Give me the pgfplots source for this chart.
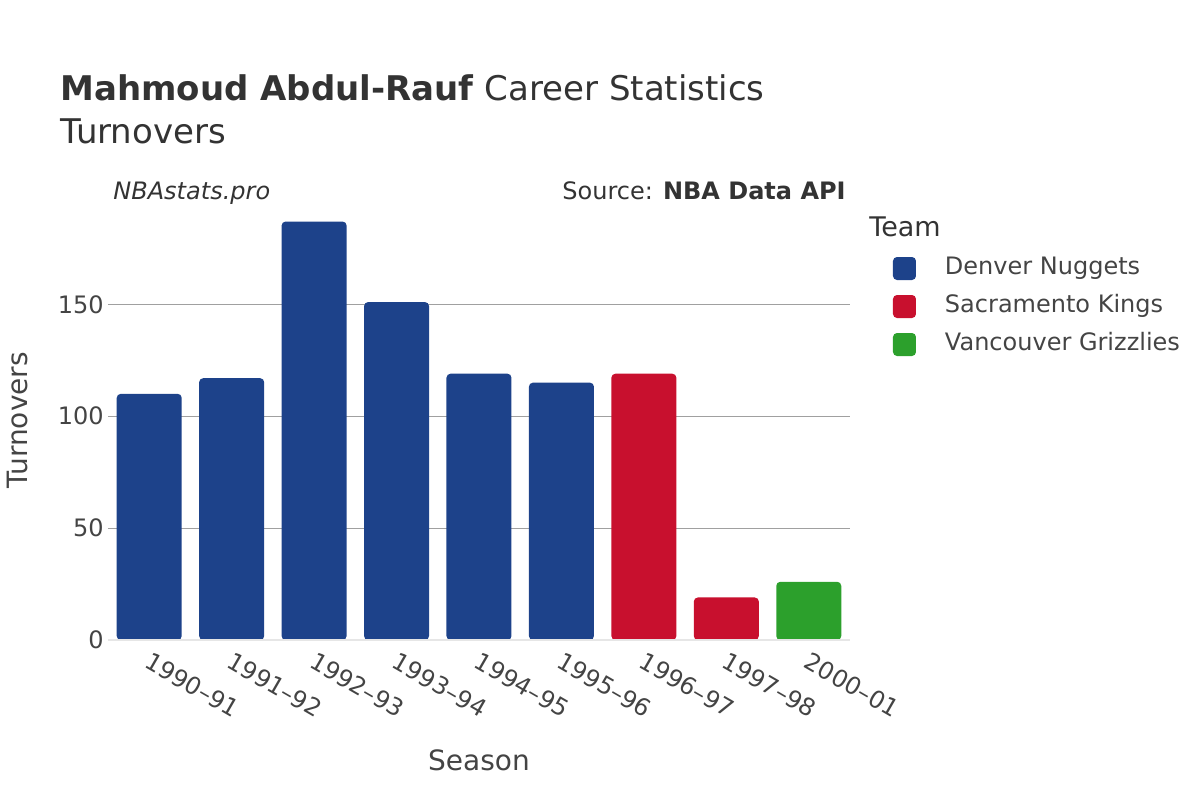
\documentclass[border=0pt]{standalone}
\usepackage{pgfplots}
\pgfplotsset{compat=1.18}
\usepackage{fontspec}
\setmainfont{DejaVu Sans}
\definecolor{txt}{HTML}{444444}
\definecolor{ttl}{HTML}{333333}
\definecolor{gridc}{HTML}{A0A0A0}
\definecolor{zeroc}{HTML}{E6E6E6}
\definecolor{den}{HTML}{1D428A}
\definecolor{sac}{HTML}{C8102E}
\definecolor{van}{HTML}{2CA02C}
\begin{document}
\begin{tikzpicture}
\path[use as bounding box] (0,0) rectangle (600pt,400pt);
\begin{axis}[
  at={(54pt,80pt)}, anchor=south west,
  scale only axis, width=371pt, height=219.75pt,
  xmin=-0.5, xmax=8.5, ymin=0, ymax=196.4,
  ybar, bar width=32.5pt, bar shift=0pt,
  clip=false,
  axis line style={draw=none}, major tick length=0pt,
  xtick={0,1,2,3,4,5,6,7,8},
  xticklabels={1990--91,1991--92,1992--93,1993--94,1994--95,1995--96,1996--97,1997--98,2000--01},
  ytick={50,100,150},
  extra y ticks={0}, extra y tick style={grid=none},
  ymajorgrids, grid style={color=gridc, line width=0.5pt},
  /pgf/number format/assume math mode=true,
  tick label style={font=\fontsize{12}{14}\selectfont, color=txt},
  yticklabel style={anchor=east, inner sep=0pt, xshift=-2pt},
  xticklabel style={yshift=-9.5pt, xshift=-1pt, rotate=-30, anchor=west, inner sep=0pt},
  xlabel={Season}, ylabel={Turnovers},
  label style={font=\fontsize{14}{16}\selectfont, color=txt},
  xlabel style={at={(axis description cs:0.5,-0.273)}, anchor=center},
  ylabel style={at={(axis description cs:-0.1226,0.5)}, anchor=center},
  legend style={at={(axis description cs:1,1)}, anchor=north west,
    xshift=21.5pt, yshift=-28.25pt, draw=none, fill=none,
    inner sep=0pt, outer sep=0pt, row sep=7.5pt,
    font=\fontsize{12}{14}\selectfont, text=txt,
    nodes={inner sep=0pt, anchor=west, text height=8.5pt, text depth=3pt},
    /tikz/every odd column/.append style={column sep=14.5pt}},
  every axis plot post/.append style={
    legend image code/.code={\fill[rounded corners=2pt] (0pt,-5.75pt) rectangle (11.5pt,5.75pt);}},
]
\addplot[fill=den, draw=none, rounded corners=2pt] coordinates {(0,110) (1,117) (2,187) (3,151) (4,119) (5,115)};
\addplot[fill=sac, draw=none, rounded corners=2pt] coordinates {(6,119) (7,19)};
\addplot[fill=van, draw=none, rounded corners=2pt] coordinates {(8,26)};
\legend{Denver Nuggets, Sacramento Kings, Vancouver Grizzlies}
\draw[zeroc, line width=1pt] (axis cs:-0.5,0) -- (axis cs:8.5,0);
\end{axis}
\node[anchor=base west, inner sep=0pt, color=ttl, font=\fontsize{17}{20}\selectfont] at (30pt,349.5pt) {\textbf{Mahmoud Abdul-Rauf} Career Statistics};
\node[anchor=base west, inner sep=0pt, color=ttl, font=\fontsize{17}{20}\selectfont] at (30pt,328pt) {Turnovers};
\node[anchor=base west, inner sep=0pt, color=ttl, font=\fontsize{12}{14}\selectfont\itshape] at (56.5pt,300.5pt) {NBAstats.pro};
\node[anchor=base east, inner sep=0pt, color=ttl, font=\fontsize{12}{14}\selectfont] at (423pt,300.5pt) {Source: \textbf{NBA Data API}};
\node[anchor=base west, inner sep=0pt, color=ttl, font=\fontsize{13.5}{16}\selectfont] at (434.5pt,282pt) {Team};
\end{tikzpicture}
\end{document}
